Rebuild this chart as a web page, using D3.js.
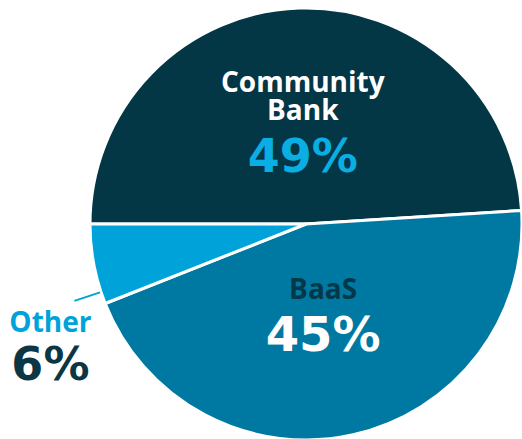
<!DOCTYPE html>
<html>
<head>
<meta charset="utf-8">
<script src="https://cdn.jsdelivr.net/npm/d3@7"></script>
<style>
  body { margin: 0; background: #fff; }
  svg { display: block; }
</style>
</head>
<body>
<div id="chart"></div>
<script>
// slice data
var categories = ["Community Bank", "BaaS", "Other"];
var shares = [49, 45, 6];
var pctLabels = ["49%", "45%", "6%"];

var fills = ["#033745", "#0079a2", "#00a3d9"];

var width = 522, height = 439;
var cx = 306, cy = 224, radius = 216;

var svg = d3.select("#chart").append("svg")
  .attr("width", width)
  .attr("height", height);

var chart = svg.append("g")
  .attr("transform", `translate(${cx},${cy})`);

var pie = d3.pie()
  .sort(null)
  .startAngle(-Math.PI / 2)
  .endAngle(Math.PI * 1.5);

var arcs = pie(shares);

var arc = d3.arc().innerRadius(0).outerRadius(radius);
var labelArc = d3.arc().innerRadius(radius * 0.47).outerRadius(radius * 0.47);

chart.selectAll("path.slice")
  .data(arcs)
  .enter()
  .append("path")
    .attr("class", "slice")
    .attr("d", arc)
    .attr("fill", function(d, i) { return fills[i]; })
    .attr("stroke", "#fff")
    .attr("stroke-width", 3)
    .attr("stroke-linejoin", "round");

var nameFont = "'Open Sans', 'Noto Sans', sans-serif";
var pctFont = "'DejaVu Sans', sans-serif";

// Community Bank
var c0 = labelArc.centroid(arcs[0]);
var g0 = chart.append("g").attr("transform", `translate(${c0[0]},${c0[1]})`);
g0.append("text").attr("y", -31).text("Community")
  .attr("text-anchor", "middle").attr("font-family", nameFont)
  .attr("font-weight", 700).attr("font-size", 28).attr("fill", "#fff");
g0.append("text").attr("y", -3).text("Bank")
  .attr("text-anchor", "middle").attr("font-family", nameFont)
  .attr("font-weight", 700).attr("font-size", 28).attr("fill", "#fff");
g0.append("text").attr("y", 49).text(pctLabels[0])
  .attr("text-anchor", "middle").attr("font-family", pctFont)
  .attr("font-weight", 700).attr("font-size", 46).attr("fill", "#0aaee2");

// BaaS
var c1 = labelArc.centroid(arcs[1]);
var g1 = chart.append("g").attr("transform", `translate(${c1[0] - 5},${c1[1]})`);
g1.append("text").attr("y", -24).text(categories[1])
  .attr("text-anchor", "middle").attr("font-family", nameFont)
  .attr("font-weight", 700).attr("font-size", 28).attr("fill", "#043848");
g1.append("text").attr("y", 28).text(pctLabels[1])
  .attr("text-anchor", "middle").attr("font-family", pctFont)
  .attr("font-weight", 700).attr("font-size", 48).attr("fill", "#fff");

// Other - outside with leader
var d2 = arcs[2];
var a = d2.startAngle + 0.15 * (d2.endAngle - d2.startAngle);
var p1 = [Math.sin(a) * (radius + 1), -Math.cos(a) * (radius + 1)];
var p2 = [Math.sin(a) * (radius + 28), -Math.cos(a) * (radius + 28)];

chart.append("line")
  .attr("x1", p1[0]).attr("y1", p1[1])
  .attr("x2", p2[0]).attr("y2", p2[1])
  .attr("stroke", "#00a3d9")
  .attr("stroke-width", 2);

var g2 = chart.append("g").attr("transform", `translate(${p2[0] - 24},${p2[1]})`);
g2.append("text").attr("y", 31).text(categories[2])
  .attr("text-anchor", "middle").attr("font-family", nameFont)
  .attr("font-weight", 700).attr("font-size", 28).attr("fill", "#00a3d9");
g2.append("text").attr("y", 79).text(pctLabels[2])
  .attr("text-anchor", "middle").attr("font-family", pctFont)
  .attr("font-weight", 700).attr("font-size", 46).attr("fill", "#0b3645");
</script>
</body>
</html>
